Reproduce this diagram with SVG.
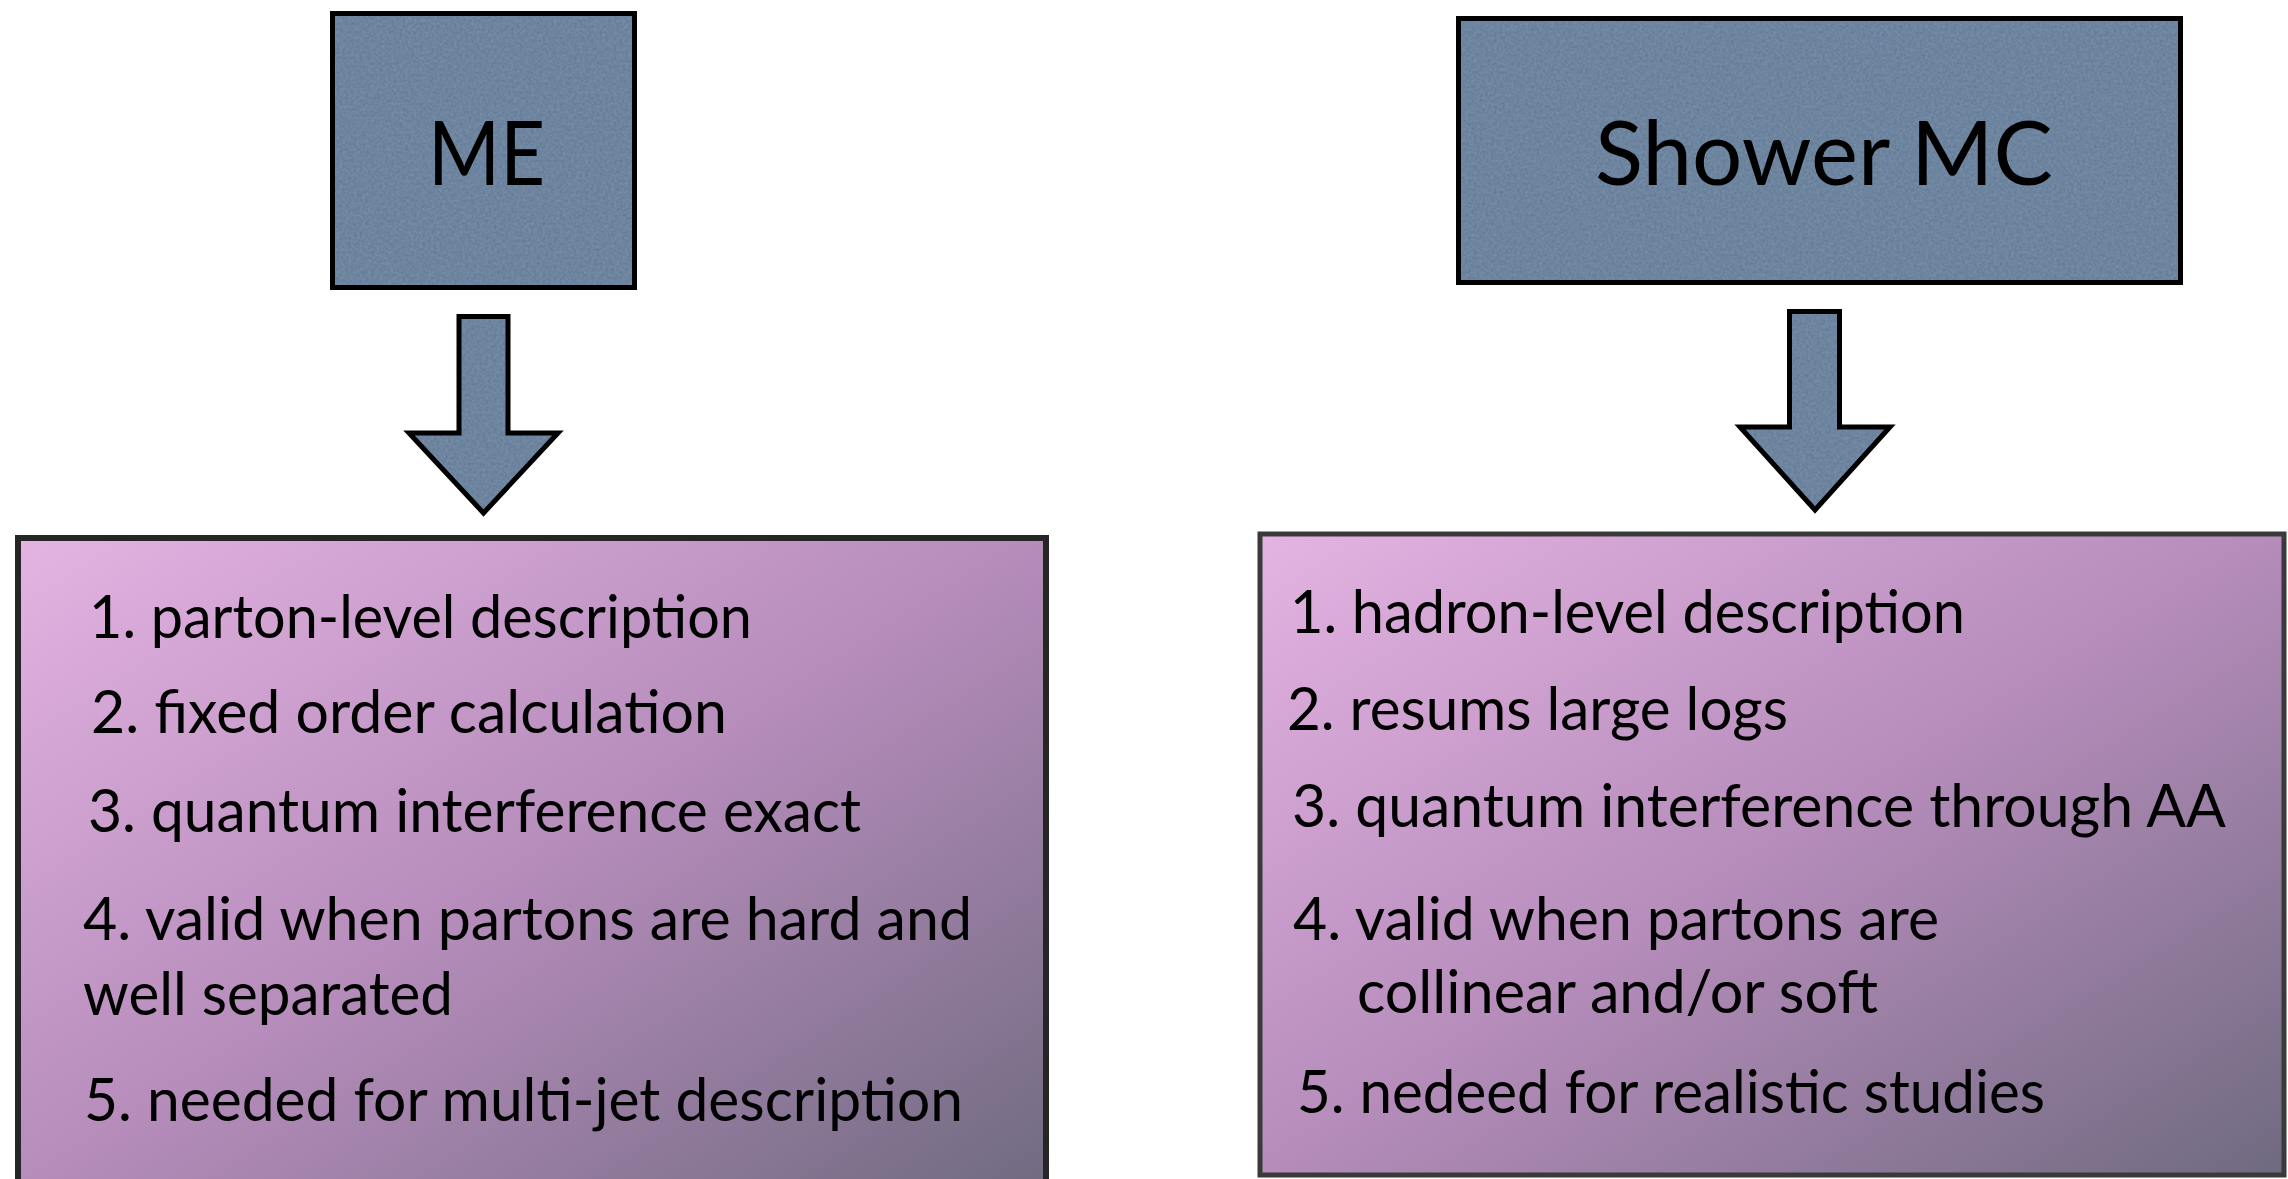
<svg xmlns="http://www.w3.org/2000/svg" width="2288" height="1179" viewBox="0 0 2288 1179">
<defs>
  <linearGradient id="purple" x1="0" y1="0" x2="1" y2="1">
    <stop offset="0" stop-color="#e4b3e2"/>
    <stop offset="0.5" stop-color="#b58cba"/>
    <stop offset="1" stop-color="#6f6a80"/>
  </linearGradient>
  <filter id="grain" x="0" y="0" width="1" height="1">
    <feTurbulence type="fractalNoise" baseFrequency="0.35" numOctaves="2" seed="3" result="n"/>
    <feColorMatrix in="n" type="matrix" values="0 0 0 0 0.42  0 0 0 0 0.52  0 0 0 0 0.64  0 0 0 0.3 0" result="c"/>
    <feComposite in="c" in2="SourceGraphic" operator="in" result="t"/>
    <feMerge><feMergeNode in="SourceGraphic"/><feMergeNode in="t"/></feMerge>
  </filter>
  <polygon id="arrowL" points="459,316.5 508,316.5 508,433 558,433 483.5,513 409,433 459,433"/>
  <polygon id="arrowR" points="1789.5,311.5 1839.5,311.5 1839.5,427 1890,427 1815,510 1740,427 1789.5,427"/>
</defs>
<style>
  .bluefill { fill: #5d7794; stroke: none; }
  .outline { fill: none; stroke: #000; stroke-width: 5; stroke-linejoin: miter; }
  .panel { fill: url(#purple); stroke: #262626; stroke-width: 6; }
  .title { font-family: Lato, "Liberation Sans", sans-serif; font-size: 90px; fill: #000; }
  .item { font-family: Lato, "Liberation Sans", sans-serif; font-size: 60px; fill: #000; }
</style>
<rect width="2288" height="1179" fill="#fff"/>

<g id="node-me">
  <rect class="bluefill" filter="url(#grain)" x="332.5" y="13.5" width="302" height="274"/>
  <rect class="outline" x="332.5" y="13.5" width="302" height="274"/>
  <text class="title" x="428" y="185" textLength="117" lengthAdjust="spacingAndGlyphs">ME</text>
</g>

<g id="node-shower">
  <rect class="bluefill" filter="url(#grain)" x="1458.5" y="18.5" width="722" height="264"/>
  <rect class="outline" x="1458.5" y="18.5" width="722" height="264"/>
  <text class="title" x="1595" y="185" textLength="458" lengthAdjust="spacingAndGlyphs">Shower MC</text>
</g>

<g id="connectors">
  <use href="#arrowL" class="bluefill" filter="url(#grain)"/>
  <use href="#arrowL" class="outline"/>
  <use href="#arrowR" class="bluefill" filter="url(#grain)"/>
  <use href="#arrowR" class="outline"/>
</g>

<g id="node-me-props">
  <rect class="panel" x="18" y="538" width="1028" height="660"/>
  <text class="item" x="89" y="638" textLength="663" lengthAdjust="spacingAndGlyphs">1. parton-level description</text>
  <text class="item" x="91" y="733" textLength="636" lengthAdjust="spacingAndGlyphs">2. fixed order calculation</text>
  <text class="item" x="88" y="832" textLength="773" lengthAdjust="spacingAndGlyphs">3. quantum interference exact</text>
  <text class="item" x="83" y="940" textLength="889" lengthAdjust="spacingAndGlyphs">4. valid when partons are hard and</text>
  <text class="item" x="83" y="1015" textLength="370" lengthAdjust="spacingAndGlyphs">well separated</text>
  <text class="item" x="84" y="1121" textLength="879" lengthAdjust="spacingAndGlyphs">5. needed for multi-jet description</text>
</g>

<g id="node-shower-props">
  <rect class="panel" x="1260" y="534" width="1024" height="641" style="stroke:#3a3a3a;stroke-width:5"/>
  <text class="item" x="1290" y="633" textLength="675" lengthAdjust="spacingAndGlyphs">1. hadron-level description</text>
  <text class="item" x="1287" y="730" textLength="501" lengthAdjust="spacingAndGlyphs">2. resums large logs</text>
  <text class="item" x="1292" y="827" textLength="934" lengthAdjust="spacingAndGlyphs">3. quantum interference through AA</text>
  <text class="item" x="1293" y="940" textLength="646" lengthAdjust="spacingAndGlyphs">4. valid when partons are</text>
  <text class="item" x="1357" y="1013" textLength="521" lengthAdjust="spacingAndGlyphs">collinear and/or soft</text>
  <text class="item" x="1297" y="1113" textLength="748" lengthAdjust="spacingAndGlyphs">5. nedeed for realistic studies</text>
</g>
</svg>
